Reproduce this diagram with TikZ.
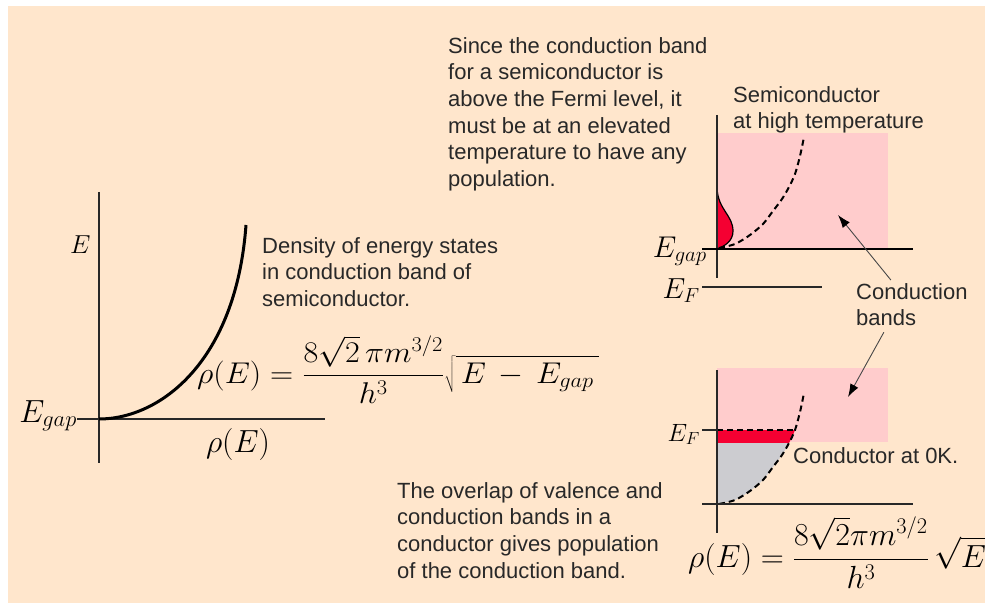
\RequirePackage{fix-cm}
\documentclass[tikz,border=0pt]{standalone}
\usepackage{fontspec}
\setsansfont{Liberation Sans}
\usetikzlibrary{arrows.meta}
\definecolor{peach}{RGB}{255,230,204}
\definecolor{bandpink}{RGB}{255,204,204}
\definecolor{fillred}{RGB}{245,0,50}
\definecolor{fillgray}{RGB}{204,204,208}
\definecolor{ink}{RGB}{40,40,40}
\begin{document}
\begin{tikzpicture}[x=1pt,y=-1pt,
  axis/.style={draw=ink,line width=2pt},
  curve/.style={line width=3pt},
  dcurve/.style={line width=2pt,dash pattern=on 6pt off 4pt},
  note/.style={inner sep=0pt,align=left,anchor=north west,text=ink,
    font=\sffamily\fontsize{22}{26.7}\selectfont},
  msize/.style={inner sep=0pt,font=\fontsize{#1}{#1}\selectfont},
  arr/.style={draw=ink!85,line width=0.9pt,-{Latex[length=13pt,width=9pt,color=black]}}]
\useasboundingbox (0,0) rectangle (985,604);
\fill[peach] (8,6) rectangle (985,603);
% density of states graph
\draw[axis] (99,192) -- (99,463);   % E axis
\draw[axis] (77,419) -- (325,419);  % rho axis
\draw[curve] (99,419) .. controls (160,419) and (236,362) .. (246,225);
\node[msize=26,anchor=base west] (Elab) at (70,253) {$E$};
\node[msize=32,anchor=base east] (Egap) at (77,422) {$E_{gap}$};
\node[msize=32,anchor=base] (rholab) at (238,452) {$\rho(E)$};
\node[msize=30,xscale=1.07,anchor=base west] (rhoSemi) at (197,383)
  {$\displaystyle\rho(E)=\frac{8\sqrt{2}\,\pi m^{3/2}}{h^3}
   \sqrt{\vphantom{\bigg(}\,E\,-\,E_{gap}\,}$};
% texts
\node[note] (since) at (448,37) {Since the conduction band\\for a semiconductor is\\above the Fermi level, it\\must be at an elevated\\temperature to have any\\population.};
\node[note] (semi) at (733,86) {Semiconductor\\at high temperature};
\node[note] (dens) at (262,237) {Density of energy states\\in conduction band of\\semiconductor.};
\node[note] (cb) at (856,283) {Conduction\\bands};
\node[note] (c0k) at (793,447) {Conductor at 0K.};
\node[note] (overlap) at (397,482) {The overlap of valence and\\conduction bands in a\\conductor gives population\\of the conduction band.};
% semiconductor at high temperature
\fill[bandpink] (717,133) rectangle (888,249);
\filldraw[fill=fillred,draw=black,line width=1.2pt] (717,188)
  .. controls (718,210) and (733,215) .. (733,231)
  .. controls (733,241) and (725,246) .. (717,249) -- cycle;
\draw[dcurve] plot[smooth] coordinates {(719,248) (735,244) (750,235) (763,224)
  (773,211) (782,199) (789,187) (795,174) (800,156) (804,137)};
\draw[axis] (717,115) -- (717,278);
\draw[line width=2pt] (702,249) -- (913,249);
\draw[axis] (702,287) -- (822,287);
\node[msize=30,anchor=base east] (EgapS) at (707,257) {$E_{gap}$};
\node[msize=29,anchor=base east] (EFS) at (700,298) {$E_F$};
% conductor at 0K
\fill[bandpink] (717,368) rectangle (888,442);
\begin{scope}
\clip (717,504) -- plot[smooth] coordinates {(719,504) (735,500) (750,491) (763,480)
  (773,467) (782,455) (789,443) (795,430) (800,412) (804,393)} -- (717,393) -- cycle;
\fill[fillgray] (717,443) rectangle (815,504);
\fill[fillred] (717,430) rectangle (815,443);
\end{scope}
\draw[dcurve] plot[smooth] coordinates {(719,504) (735,500) (750,491) (763,480)
  (773,467) (782,455) (789,443) (795,430) (800,412) (804,393)};
\draw[dcurve] (717,430) -- (795,430);
\draw[axis] (702,430) -- (717,430);
\draw[axis] (717,370) -- (717,533);
\draw[axis] (702,504) -- (913,504);
\node[msize=25,anchor=base east] (EFC) at (700,441) {$E_F$};
\node[msize=32,anchor=base west] (rhoCond) at (688,567)
  {$\displaystyle\rho(E)=\frac{8\sqrt{2}\pi m^{3/2}}{h^3}\,\sqrt{E}$};
% arrows to the bands
\coordinate (tipA) at (838,215);
\coordinate (tipB) at (848,397);
\draw[arr] ([xshift=-21pt,yshift=3pt]cb.north) -- (tipA);
\draw[arr] ([xshift=-28pt,yshift=-6pt]cb.south) -- (tipB);
\end{tikzpicture}
\end{document}
